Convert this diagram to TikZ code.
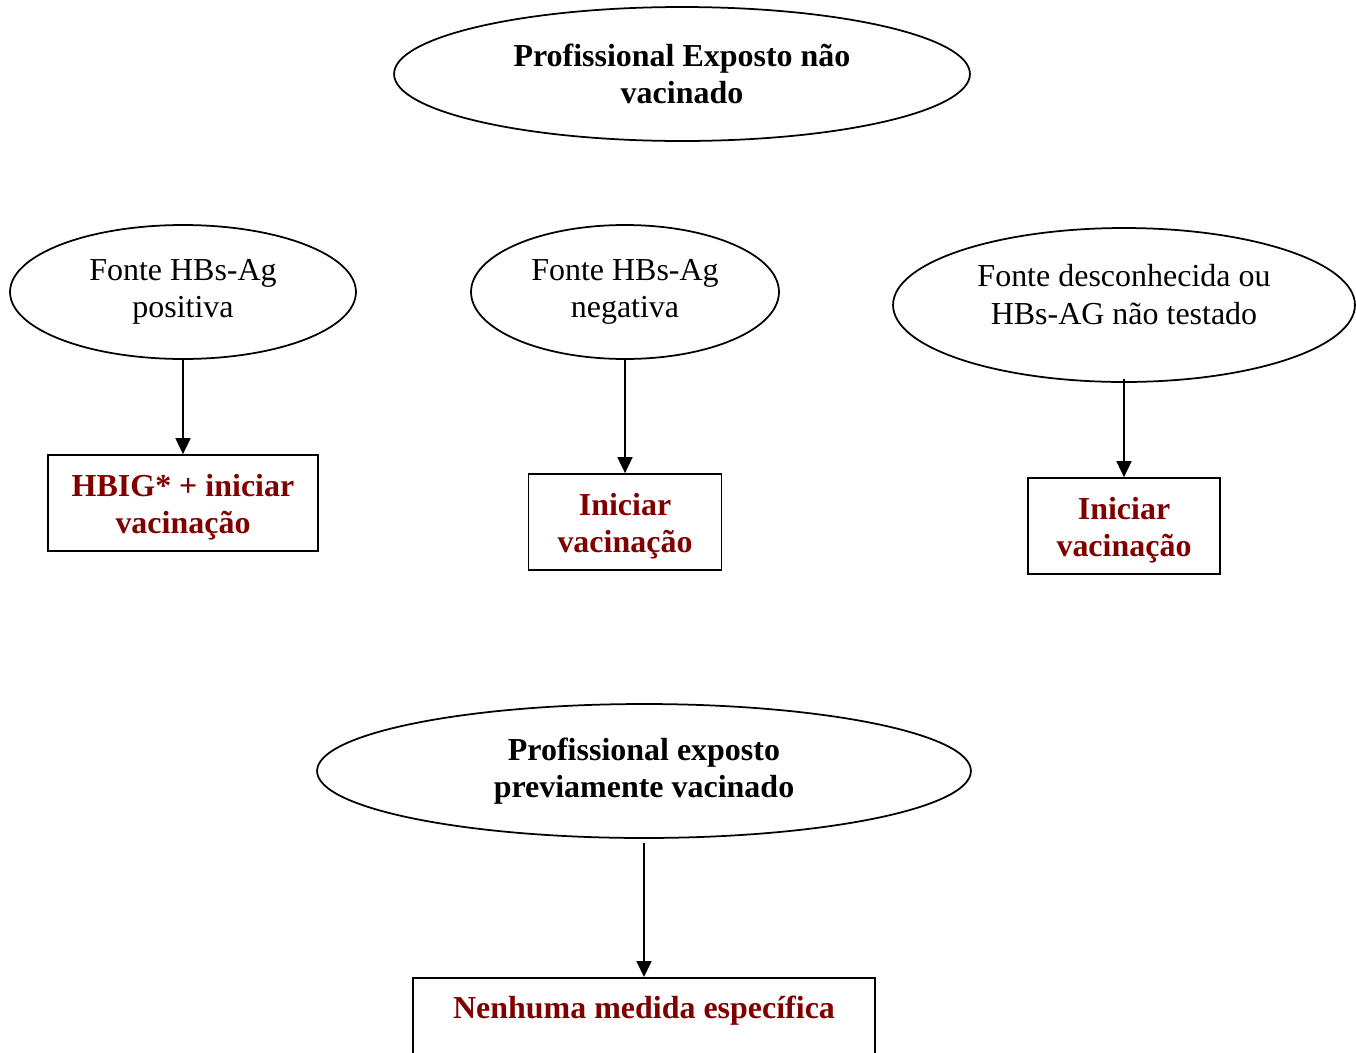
\documentclass[tikz,border=0pt]{standalone}
\usepackage{fontspec}
\setmainfont{Liberation Serif}
\usetikzlibrary{shapes.geometric,arrows.meta}
\definecolor{vinho}{RGB}{128,0,0}
\newcommand{\topo}{\rule{0pt}{17.5pt}}
\tikzset{
  elipse/.style={draw, ellipse, inner sep=0pt, align=center, font=\fontsize{18.2}{21.4}\selectfont},
  medida/.style={draw, rectangle, inner sep=0pt, align=center, text=vinho, minimum height=1.92cm, font=\fontsize{18.2}{21.4}\selectfont\bfseries},
  seta/.style={-{Triangle[width=0.3cm,length=0.32cm]}}
}
\begin{document}
\begin{tikzpicture}[x=0.02cm,y=-0.02cm,line width=1pt]
	\clip (0,0) rectangle (1356,1052);
	\node[elipse,minimum width=11.52cm,minimum height=2.68cm,font=\fontsize{18.2}{21.4}\selectfont\bfseries] (naovac) at (682,74) {Profissional Exposto não\\vacinado};
	\node[elipse,minimum width=6.92cm,minimum height=2.68cm] (pos) at (183,292) {Fonte HBs-Ag\\positiva};
	\node[elipse,minimum width=6.16cm,minimum height=2.68cm] (neg) at (625,292) {Fonte HBs-Ag\\negativa};
	\node[elipse,minimum width=9.24cm,minimum height=3.08cm] (desc) at (1124,305) {Fonte desconhecida ou\\HBs-AG não testado\rule[-12pt]{0pt}{0pt}};
	\node[medida,minimum width=5.4cm] (hbig) at (183,503) {\topo HBIG* + iniciar\\vacinação};
	\node[medida,minimum width=3.86cm] (vac1) at (625,522) {\topo Iniciar\\vacinação};
	\node[medida,minimum width=3.84cm] (vac2) at (1124,526) {\topo Iniciar\\vacinação};
	\node[elipse,minimum width=13.08cm,minimum height=2.68cm,font=\fontsize{18.2}{21.4}\selectfont\bfseries] (prevac) at (644,771) {Profissional exposto\\previamente vacinado};
	\node[medida,minimum width=9.24cm,anchor=north] (nenhuma) at (644,977) {Nenhuma medida específica\\\mbox{}};
	\draw[seta] (pos.south) -- (hbig.north);
	\draw[seta] (neg.south) -- (vac1.north);
	\draw[seta] ([yshift=0.08cm]desc.south) -- (vac2.north);
	\draw[seta] ([yshift=-0.08cm]prevac.south) -- (nenhuma.north);
\end{tikzpicture}
\end{document}
